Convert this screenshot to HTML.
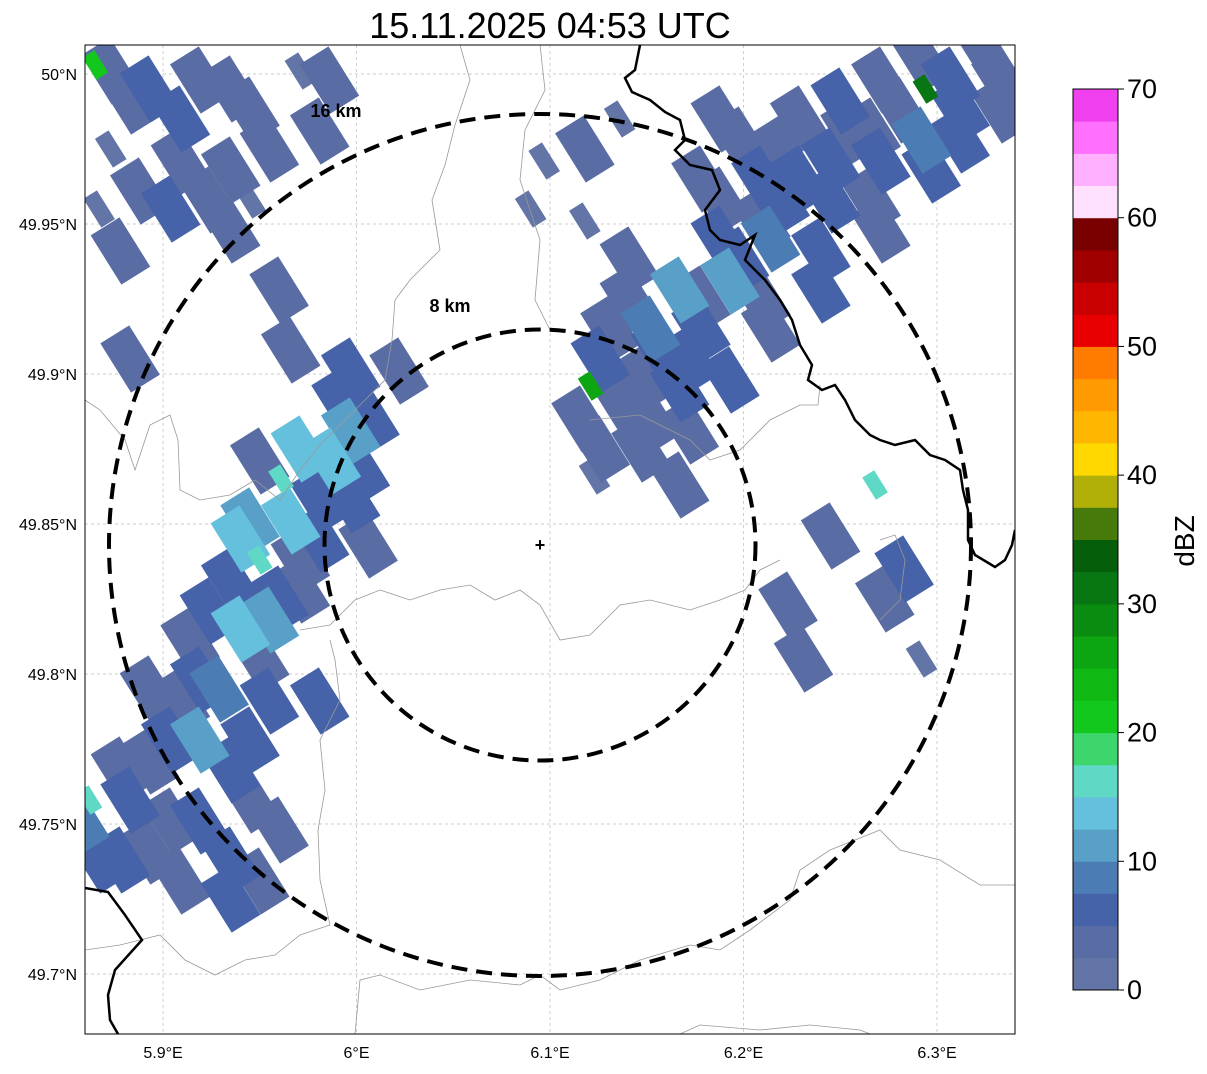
<!DOCTYPE html>
<html><head><meta charset="utf-8"><style>
body{margin:0;background:#fff;width:1207px;height:1069px;overflow:hidden;font-family:"Liberation Sans",sans-serif}
</style></head><body>
<svg id="chart" width="1207" height="1069" xmlns="http://www.w3.org/2000/svg" font-family="Liberation Sans, sans-serif">
<defs><clipPath id="mapclip"><rect x="85" y="45" width="930" height="989"/></clipPath></defs>
<text x="550" y="38" font-size="36" text-anchor="middle">15.11.2025 04:53 UTC</text>
<g id="map" clip-path="url(#mapclip)">
<g id="grid"></g>
<g id="cells"></g>
<g fill="none" stroke="#999" stroke-width="0.8">
<path d="M85,400 L100,410 L125,440 L135,470 L150,425 L170,415 L178,440 L180,490 L200,500 L230,495 L255,480 L280,500 L300,470 L320,445 L345,420 L370,395 L385,380 L392,340 L395,300 L410,280 L440,250 L432,200 L445,165 L455,125 L470,80 L460,45"/>
<path d="M300,630 L330,625 L355,600 L380,590 L410,600 L440,590 L470,585 L495,600 L520,590 L540,605 L560,640 L590,635 L620,605 L650,600 L690,610 L720,600 L745,590 L760,570 L780,560"/>
<path d="M85,950 L120,945 L160,935 L185,960 L215,975 L245,960 L275,955 L300,935 L330,925 L320,880 L318,830 L325,790 L320,740 L340,700 L335,660 L330,640"/>
<path d="M355,1034 L360,980 L380,975 L420,990 L470,980 L520,985 L540,975 L560,990 L600,980 L640,960 L690,945 L720,950 L750,930 L790,900 L800,870 L830,850 L880,830 L900,850 L940,860 L980,885 L1015,885"/>
<path d="M590,420 L640,415 L690,440 L710,460 L740,450 L770,420 L800,405 L818,405 L820,385"/>
<path d="M540,45 L545,90 L525,130 L520,180 L540,240 L535,300 L550,330"/>
<path d="M880,540 L895,535 L905,560 L900,600 L880,620"/>
<path d="M680,1034 L700,1025 L760,1030 L810,1025 L860,1030 L870,1034"/>
</g>
<g fill="none" stroke="#000" stroke-width="2.5">
<path d="M640,45 L635,70 L625,78 L632,92 L650,100 L665,112 L680,120 L685,140 L675,150 L690,165 L712,170 L720,190 L705,210 L710,230 L720,240 L740,245 L755,235 L745,260 L765,280 L780,300 L792,320 L800,345 L812,365 L808,380 L822,390 L835,385 L845,400 L855,420 L870,435 L880,440 L895,445 L915,440 L930,455 L945,460 L960,470 L963,490 L968,510 L968,540 L975,555 L995,567 L1005,560 L1012,545 L1015,530"/>
<path d="M85,888 L108,892 L125,915 L142,940 L115,970 L108,995 L110,1020 L118,1034"/>
</g>
<circle cx="540" cy="545" r="215.5" fill="none" stroke="#000" stroke-width="4" stroke-dasharray="16,9"/>
<circle cx="540" cy="545" r="431" fill="none" stroke="#000" stroke-width="4" stroke-dasharray="16,9"/>
<text x="540" y="551" font-size="18" font-weight="bold" text-anchor="middle">+</text>
<text x="336" y="117" font-size="18" font-weight="bold" text-anchor="middle">16 km</text>
<text x="450" y="312" font-size="18" font-weight="bold" text-anchor="middle">8 km</text>
</g>
<rect x="85" y="45" width="930" height="989" fill="none" stroke="#000" stroke-width="1"/>
<g id="axes"></g>
<g id="colorbar"></g>
<text transform="translate(1194,541) rotate(-90)" font-size="28" text-anchor="middle">dBZ</text>
</svg>
<script>
const lonTicks=[5.9,6.0,6.1,6.2,6.3];
const lonLabels=["5.9°E","6°E","6.1°E","6.2°E","6.3°E"];
const latTicks=[50.0,49.95,49.9,49.85,49.8,49.75,49.7];
const latLabels=["50°N","49.95°N","49.9°N","49.85°N","49.8°N","49.75°N","49.7°N"];
const cellLon=[5.857,5.867,5.893,5.919,5.893,5.919,5.945,5.945,5.950,5.909,5.929,5.955,5.914,5.940,5.960,5.935,5.950,5.971,5.945,5.966,5.981,5.961,5.987,5.950,5.997,6.007,6.002,5.981,5.862,
5.883,5.904,5.935,5.960,5.878,5.904,5.935,5.919,5.950,5.893,5.924,5.955,5.971,5.940,5.981,5.997,5.971,5.992,5.935,5.909,5.878,
5.873,5.893,5.919,5.945,5.873,5.909,5.935,5.867,5.904,5.935,5.971,5.981,5.960,5.883,5.966,5.997,6.022,5.865,
5.883,5.909,5.935,5.955,5.924,5.878,5.888,5.986,5.945,
6.126,6.121,6.147,6.167,6.152,6.178,6.167,6.193,6.188,6.214,6.219,6.245,6.245,6.271,6.266,6.292,6.307,6.327,6.292,6.198,6.126,6.167,6.116,6.294,
6.136,6.157,6.178,6.198,6.209,6.229,6.255,6.281,6.209,6.240,6.266,6.312,6.333,6.172,6.152,6.188,6.219,6.178,6.229,6.141,
6.188,6.209,6.250,6.271,6.297,6.271,6.240,6.214,6.193,6.172,6.147,6.131,6.141,6.312,6.333,
6.097,6.118,6.118,6.090,6.136,6.123,6.245,6.268,6.283,6.273,6.223,6.231,6.292,6.006];
const cellLat=[49.751,49.738,49.741,49.751,49.771,49.778,49.758,49.778,49.731,49.791,49.795,49.791,49.811,49.815,49.825,49.831,49.838,49.838,49.851,49.851,49.858,49.865,49.871,49.871,49.881,49.885,49.868,49.791,49.758,
49.758,49.751,49.738,49.748,49.768,49.778,49.768,49.798,49.805,49.795,49.821,49.818,49.828,49.845,49.845,49.858,49.875,49.891,49.725,49.731,49.738,
50.001,49.995,49.998,49.988,49.975,49.971,49.968,49.955,49.955,49.948,50.001,49.981,49.928,49.905,49.908,49.901,49.901,50.003,
49.991,49.985,49.995,49.975,49.958,49.941,49.961,49.998,49.958,
49.905,49.896,49.898,49.895,49.915,49.915,49.928,49.931,49.945,49.945,49.958,49.958,49.971,49.971,49.981,49.978,49.998,50.005,50.005,49.978,49.875,49.863,49.885,49.995,
49.891,49.908,49.925,49.938,49.951,49.965,49.981,49.988,49.925,49.941,49.958,49.988,49.998,49.881,49.885,49.985,49.975,49.965,49.985,49.938,
49.958,49.965,49.991,49.998,49.968,49.948,49.928,49.915,49.898,49.905,49.875,49.915,49.925,49.978,49.988,
49.971,49.975,49.951,49.955,49.985,49.866,49.846,49.863,49.835,49.825,49.823,49.805,49.805,49.843];
const cellDbz=[8,5,3,6,4,12,3,5,4,3,8,5,4,13,6,5,15,4,12,14,6,16,13,4,10,6,5,5,15,
5,4,5,4,4,6,5,5,4,4,5,12,4,13,5,5,14,6,5,4,6,
3,5,4,3,2,4,3,2,5,3,2,3,4,3,3,5,4,22,
4,5,4,3,4,3,3,3,2,
6,27,4,5,8,6,10,12,5,9,6,7,5,6,3,8,5,4,3,3,3,3,3,30,
4,5,4,5,4,5,4,4,4,5,4,5,4,4,3,3,4,3,4,3,
4,5,5,4,5,4,5,4,5,5,4,4,3,5,4,
2,3,2,2,2,2,3,16,6,4,3,4,2,4];
const cbLevels=[0,10,20,30,40,50,60,70];
const cbColors=["#6374a6","#5a6ca4","#4662a8","#4b7cb4","#58a0c8","#64c0dc","#5fd8c6","#3dd66c","#12c81c","#10b814","#0ea512","#0a8c10","#087612","#055f0a","#467a0a","#b0b008","#ffd800","#ffb600","#ff9a00","#ff7c00","#e80000","#c80000","#a00000","#780000","#ffe0ff","#ffb0ff","#ff70ff","#f040f0"];
const NS="http://www.w3.org/2000/svg";
const xS=lon=>163+(lon-5.9)*1935;
const yS=lat=>74+(50-lat)*3000;
const cbY=v=>990-v*(901/70);
function mk(tag,attrs,parent){const e=document.createElementNS(NS,tag);for(const k in attrs)e.setAttribute(k,attrs[k]);parent.appendChild(e);return e;}
const grid=document.getElementById('grid'),axes=document.getElementById('axes');
lonTicks.forEach((v,i)=>{const x=xS(v);
 const g=mk('line',{x1:x,x2:x,y1:45,y2:1034,stroke:'#bbb','stroke-width':0.7,'stroke-dasharray':'3,3'},grid);
 
 const t=mk('text',{x:x,y:1058,'font-size':16,'text-anchor':'middle'},axes);t.textContent=lonLabels[i];
 });
latTicks.forEach((v,i)=>{const y=yS(v);
 const g=mk('line',{x1:85,x2:1015,y1:y,y2:y,stroke:'#bbb','stroke-width':0.7,'stroke-dasharray':'3,3'},grid);
 
 const t=mk('text',{x:77,y:y+6,'font-size':16,'text-anchor':'end'},axes);t.textContent=latLabels[i];
 });
const cells=document.getElementById('cells');
function colorFor(d){return cbColors[Math.max(0,Math.min(27,Math.floor(d/2.5)))];}
const order=cellDbz.map((d,i)=>i).sort((a,b)=>cellDbz[a]-cellDbz[b]);
order.forEach(i=>{const x=xS(cellLon[i]),y=yS(cellLat[i]);const d=cellDbz[i];
 const hi=d>=15,lo=d<=2;const l=hi?26:(lo?34:58),w=hi?14:(lo?16:34);
 const e=mk('rect',{x:-l/2,y:-w/2,width:l,height:w,fill:colorFor(d),transform:`translate(${x},${y}) rotate(58)`},cells);
 });
const cb=document.getElementById('colorbar');
cbColors.forEach((c,i)=>{const v0=i*2.5,v1=v0+2.5;
 const e=mk('rect',{x:1073,y:cbY(v1),width:45,height:cbY(v0)-cbY(v1)+0.5,fill:c},cb);
 });
const fr=mk('rect',{x:1073,y:89,width:45,height:901,fill:'none',stroke:'#000','stroke-width':1},cb);

cbLevels.forEach(v=>{const y=cbY(v);
 mk('line',{x1:1118,x2:1124,y1:y,y2:y,stroke:'#000'},cb);
 const t=mk('text',{x:1127,y:y+9,'font-size':27},cb);t.textContent=v;
 });
</script>
</body></html>
